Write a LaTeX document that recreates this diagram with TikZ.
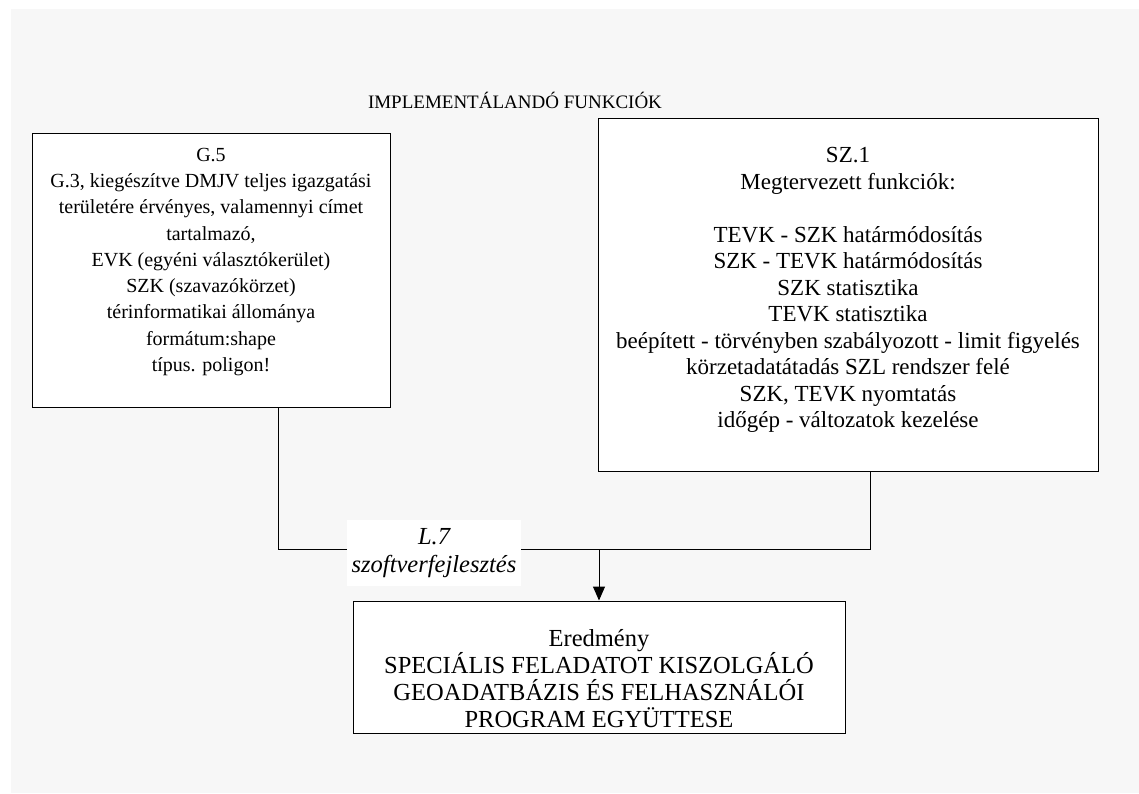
\documentclass[tikz,border=0pt]{standalone}
\usepackage{fontspec}
\setmainfont{Liberation Serif}
\usetikzlibrary{arrows.meta}
\definecolor{bggray}{HTML}{F7F7F7}

\begin{document}
\begin{tikzpicture}[x=1pt, y=-1pt, line width=1pt,
		box/.style={draw, fill=white, inner sep=0pt},
		txt/.style={align=center, inner sep=0pt},
		link/.style={draw, line width=1pt},
		arrow/.style={link, -{Triangle[length=14pt,width=12pt]}}]
		
		\useasboundingbox (0,0) rectangle (1139,793);
		\fill[bggray] (11,9) rectangle (1139,793); %Background
		
		\node[txt, font=\fontsize{19}{24}\selectfont] (title) at (515,100) {IMPLEMENTÁLANDÓ FUNKCIÓK};
		
		%Input boxes
		\node[box, minimum width=358pt, minimum height=274pt] (g5) at (211,270) {};
		\node[txt, font=\fontsize{20}{26.25}\selectfont] (g5text) at (211,262) {G.5\\
			G.3, kiegészítve DMJV teljes igazgatási\\
			területére érvényes, valamennyi címet\\
			tartalmazó,\\
			EVK (egyéni választókerület)\\
			SZK (szavazókörzet)\\
			térinformatikai állománya\\
			formátum:shape\\
			típus. poligon!};
		\node[box, minimum width=500pt, minimum height=353pt] (sz1) at (848,294.5) {};
		\node[txt, font=\fontsize{23}{26.5}\selectfont] (sz1text) at (848,290) {SZ.1\\
			Megtervezett funkciók:\\[26.5pt]
			TEVK - SZK határmódosítás\\
			SZK - TEVK határmódosítás\\
			SZK statisztika\\
			TEVK statisztika\\
			beépített - törvényben szabályozott - limit figyelés\\
			körzetadatátadás SZL rendszer felé\\
			SZK, TEVK nyomtatás\\
			időgép - változatok kezelése};
		
		%Result
		\node[box, minimum width=492pt, minimum height=132pt] (res) at (599,667) {};
		\node[txt, font=\fontsize{24.5}{27}\selectfont] (restext) at (599,679) {Eredmény\\
			SPECIÁLIS FELADATOT KISZOLGÁLÓ\\
			GEOADATBÁZIS ÉS FELHASZNÁLÓI\\
			PROGRAM EGYÜTTESE};
		
		%Connectors
		\coordinate (jl) at (278,549);
		\coordinate (jr) at (870,549);
		\draw[link] (g5.south -| jl) -- (jl) -- (jr) -- (sz1.south -| jr);
		\draw[arrow] (res.north |- jl) -- (res.north);
		
		\node[txt, fill=white, minimum width=174pt, minimum height=66pt,
			font=\fontsize{24.5}{28}\selectfont\itshape] (l7) at (434,553) {L.7\\ szoftverfejlesztés};
		
	\end{tikzpicture}
\end{document}
